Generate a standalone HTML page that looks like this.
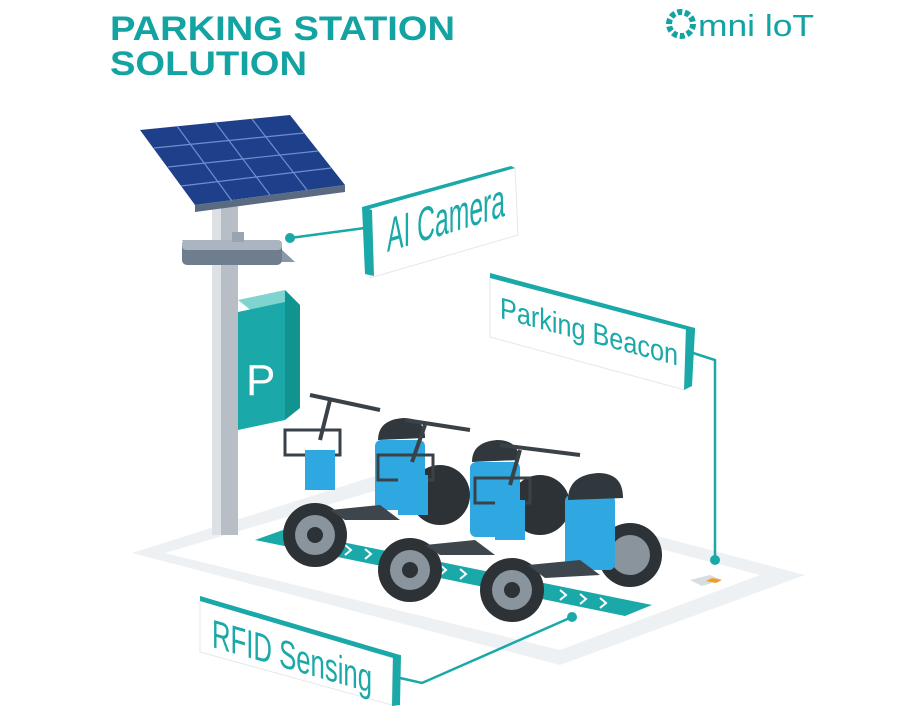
<!DOCTYPE html>
<html><head><meta charset="utf-8"><style>
html,body{margin:0;padding:0;background:#fff;}
svg{display:block;}
text{font-family:"Liberation Sans",sans-serif;}
</style></head><body>
<svg width="900" height="720" viewBox="0 0 900 720" xmlns="http://www.w3.org/2000/svg">
<!-- title -->
<text x="110" y="40" font-size="34" font-weight="bold" fill="#14a3a3" textLength="345" lengthAdjust="spacingAndGlyphs">PARKING STATION</text>
<text x="110" y="75" font-size="34" font-weight="bold" fill="#14a3a3" textLength="197" lengthAdjust="spacingAndGlyphs">SOLUTION</text>
<!-- logo -->
<circle cx="681" cy="24" r="12" fill="none" stroke="#14a3a3" stroke-width="6" stroke-dasharray="5 2.5"/>
<text x="698" y="36" font-size="31" fill="#14a3a3" textLength="116" lengthAdjust="spacingAndGlyphs">mni loT</text>

<!-- floor -->
<polygon points="132,553 400,468 805,575 560,665" fill="#eef1f3"/>
<polygon points="165,553 405,482 760,575 560,650" fill="#fff"/>
<polygon points="255,540 283,530 652,605 625,616" fill="#1aa8a8"/>
<g fill="none" stroke="#fff" stroke-width="2">
<polyline points="345,545 351,550 345,555"/><polyline points="365,549 371,554 365,559"/>
<polyline points="440,565 446,570 440,575"/><polyline points="460,569 466,574 460,579"/>
<polyline points="560,590 566,595 560,600"/><polyline points="580,594 586,599 580,604"/><polyline points="600,598 606,603 600,608"/>
</g>

<!-- pole -->
<rect x="212" y="200" width="26" height="335" fill="#b8bec6"/>
<rect x="212" y="200" width="9" height="335" fill="#dde1e5"/>
<!-- solar -->
<polygon points="140,130 290,115 345,185 195,205" fill="#1e3f8a"/>
<polygon points="195,205 345,185 345,192 195,212" fill="#5a6a80"/>
<g stroke="#6d8fd0" stroke-width="1.2">
<line x1="177" y1="126" x2="232" y2="201"/><line x1="215" y1="122" x2="270" y2="195"/><line x1="252" y1="119" x2="307" y2="190"/>
<line x1="154" y1="148" x2="304" y2="133"/><line x1="168" y1="167" x2="318" y2="151"/><line x1="181" y1="186" x2="331" y2="168"/>
</g>
<!-- camera -->
<polygon points="182,240 280,248 295,262 200,262" fill="#8a97a6"/>
<rect x="182" y="240" width="100" height="25" rx="5" fill="#6f7e8e"/>
<rect x="182" y="240" width="100" height="10" rx="4" fill="#aab5c0"/>
<rect x="232" y="232" width="12" height="10" fill="#9aa4ae"/>
<!-- P box -->
<polygon points="238,300 285,290 300,305 253,312" fill="#7fd4d0"/>
<polygon points="285,290 300,305 300,408 285,420" fill="#11938f"/>
<polygon points="238,312 285,302 285,420 238,430" fill="#1aa8a8"/>
<text x="246" y="395" font-size="44" fill="#fff">P</text>

<!-- scooters -->
<g>
<circle cx="440" cy="495" r="30" fill="#2d3236"/>
<rect x="375" y="440" width="50" height="70" rx="6" fill="#2fa7e0"/>
<path d="M378 440 q0 -20 25 -22 q22 0 22 20 z" fill="#30383d"/>
<rect x="285" y="430" width="55" height="25" fill="none" stroke="#3a4248" stroke-width="3"/>
<rect x="305" y="450" width="30" height="40" fill="#2fa7e0"/>
<line x1="320" y1="440" x2="330" y2="400" stroke="#3a4248" stroke-width="4"/>
<line x1="310" y1="395" x2="380" y2="410" stroke="#3a4248" stroke-width="4"/>
<circle cx="315" cy="535" r="32" fill="#2d3236"/><circle cx="315" cy="535" r="20" fill="#8a949c"/><circle cx="315" cy="535" r="8" fill="#2d3236"/>
<path d="M330 510 L380 505 L400 520 L345 520 z" fill="#3d464d"/>
<circle cx="540" cy="505" r="30" fill="#2d3236"/>
<rect x="470" y="462" width="50" height="75" rx="6" fill="#2fa7e0"/>
<path d="M472 462 q0 -20 25 -22 q22 0 22 20 z" fill="#30383d"/>
<rect x="378" y="455" width="55" height="25" fill="none" stroke="#3a4248" stroke-width="3"/>
<rect x="398" y="475" width="30" height="40" fill="#2fa7e0"/>
<line x1="412" y1="462" x2="425" y2="425" stroke="#3a4248" stroke-width="4"/>
<line x1="405" y1="420" x2="470" y2="430" stroke="#3a4248" stroke-width="4"/>
<circle cx="410" cy="570" r="32" fill="#2d3236"/><circle cx="410" cy="570" r="20" fill="#8a949c"/><circle cx="410" cy="570" r="8" fill="#2d3236"/>
<path d="M425 545 L475 540 L495 555 L440 555 z" fill="#3d464d"/>
<circle cx="630" cy="555" r="32" fill="#2d3236"/><circle cx="630" cy="555" r="20" fill="#8a949c"/>
<rect x="565" y="495" width="50" height="75" rx="6" fill="#2fa7e0"/>
<path d="M568 500 q0 -25 30 -27 q25 0 25 25 z" fill="#30383d"/>
<rect x="475" y="478" width="55" height="25" fill="none" stroke="#3a4248" stroke-width="3"/>
<rect x="495" y="500" width="30" height="40" fill="#2fa7e0"/>
<line x1="510" y1="485" x2="520" y2="450" stroke="#3a4248" stroke-width="4"/>
<line x1="500" y1="445" x2="580" y2="455" stroke="#3a4248" stroke-width="4"/>
<circle cx="512" cy="590" r="32" fill="#2d3236"/><circle cx="512" cy="590" r="20" fill="#8a949c"/><circle cx="512" cy="590" r="8" fill="#2d3236"/>
<path d="M528 565 L580 560 L600 575 L545 578 z" fill="#3d464d"/>
</g>
<!-- beacon device -->
<polygon points="690,580 710,575 722,580 702,586" fill="#d8dde2"/>
<polygon points="712,578 722,580 716,583 706,581" fill="#f0a020"/>

<!-- connectors -->
<g stroke="#1aa8a8" stroke-width="2.5" fill="none">
<polyline points="290,238 365,228"/>
<polyline points="690,352 715,360 715,560"/>
<polyline points="400,678 422,683 572,617"/>
</g>
<g fill="#1aa8a8"><circle cx="290" cy="238" r="5"/><circle cx="715" cy="560" r="5"/><circle cx="572" cy="617" r="5"/></g>

<!-- AI Camera label -->
<polygon points="366,208 515,168 518,235 370,278" fill="#fff" stroke="#e4e8ea"/>
<polygon points="362,207 372,210 374,276 365,274" fill="#1aa8a8"/>
<polygon points="362,207 511,166 515,168 366,210" fill="#1aa8a8"/>
<g transform="translate(387,252) skewY(-17)">
<text x="0" y="0" font-size="48" fill="#1aa8a8" textLength="118" lengthAdjust="spacingAndGlyphs">AI Camera</text></g>
<!-- Parking Beacon label -->
<polygon points="490,277 688,328 685,390 490,337" fill="#fff" stroke="#e4e8ea"/>
<polygon points="686,326 695,330 692,386 684,390" fill="#1aa8a8"/>
<polygon points="490,273 695,328 695,332 490,278" fill="#1aa8a8"/>
<g transform="translate(500,318) skewY(15)">
<text x="0" y="0" font-size="30" fill="#1aa8a8" textLength="178" lengthAdjust="spacingAndGlyphs">Parking Beacon</text></g>
<!-- RFID label -->
<polygon points="200,600 393,658 392,705 200,652" fill="#fff" stroke="#e4e8ea"/>
<polygon points="200,596 400,655 400,660 200,601" fill="#1aa8a8"/>
<polygon points="393,656 401,655 400,705 392,706" fill="#1aa8a8"/>
<g transform="translate(212,647) skewY(16)">
<text x="0" y="0" font-size="40" fill="#1aa8a8" textLength="160" lengthAdjust="spacingAndGlyphs">RFID Sensing</text></g>
</svg>
</body></html>
